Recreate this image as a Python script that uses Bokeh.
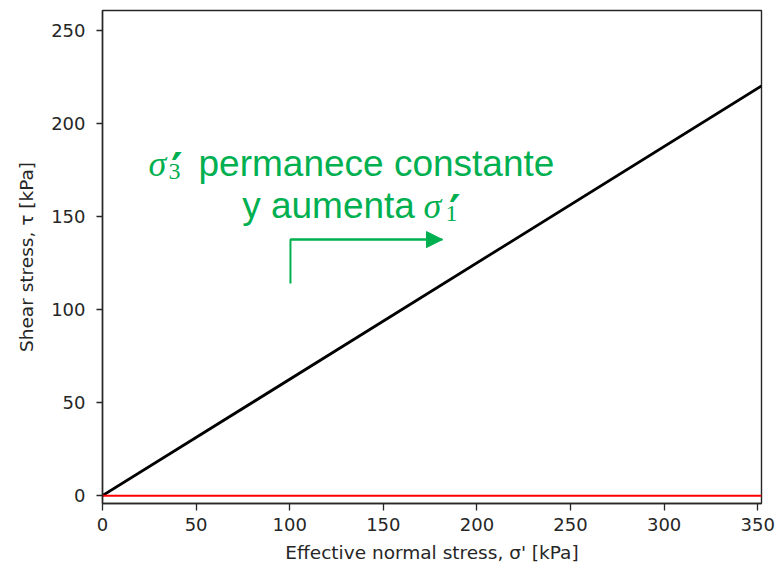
from bokeh.plotting import figure
from bokeh.models import Range1d, FixedTicker, Label, Arrow, NormalHead
from bokeh.embed import file_html
from bokeh.resources import INLINE

# ---- data ----
x_ticks = [0, 50, 100, 150, 200, 250, 300, 350]
y_ticks = [0, 50, 100, 150, 200, 250]
envelope_sigma = [0, 352]
envelope_tau = [0, 220]
stress_sigma = [0, 352]
stress_tau = [0, 0]
arrow_x = [100.4, 100.4, 181.6]
arrow_y = [113.9, 137.5, 137.5]

GREEN = "#00B050"
AXIS_COL = "#262626"

p = figure(width=776, height=565, output_backend="svg", toolbar_location=None,
           x_range=Range1d(0, 352), y_range=Range1d(-4.2, 260.5),
           min_border_left=102, min_border_right=15, min_border_top=10, min_border_bottom=62)

p.background_fill_color = "white"
p.border_fill_color = "white"
p.outline_line_color = AXIS_COL
p.outline_line_width = 1.4
p.xgrid.visible = False
p.ygrid.visible = False

for ax, ticks in ((p.xaxis, x_ticks), (p.yaxis, y_ticks)):
    ax.ticker = FixedTicker(ticks=ticks)
    ax.minor_tick_line_color = None
    ax.major_tick_in = 0
    ax.major_tick_line_color = AXIS_COL
    ax.major_tick_line_width = 1.3
    ax.axis_line_color = AXIS_COL
    ax.axis_line_width = 1.4
    ax.major_label_text_font = "DejaVu Sans"
    ax.major_label_text_font_size = "18px"
    ax.major_label_text_color = AXIS_COL
    ax.axis_label_text_font = "DejaVu Sans"
    ax.axis_label_text_font_size = "18.5px"
    ax.axis_label_text_font_style = "normal"
    ax.axis_label_text_color = AXIS_COL

p.xaxis.major_tick_out = 7
p.yaxis.major_tick_out = 6
p.xaxis.major_label_standoff = 7
p.yaxis.major_label_standoff = 11
p.xaxis.axis_label_standoff = 8
p.yaxis.axis_label_standoff = 11
p.xaxis.axis_label = "Effective normal stress, σ' [kPa]"
p.yaxis.axis_label = "Shear stress, τ [kPa]"

p.line(envelope_sigma, envelope_tau, line_color="black", line_width=2.8)
p.line(stress_sigma, stress_tau, line_color="red", line_width=2)

# ---- annotation ----
def lab(x, y, text, font, size, style="normal"):
    p.add_layout(Label(x=x, y=y, x_units="data", y_units="data", text=text,
                       text_font=font, text_font_size=size, text_font_style=style,
                       text_color=GREEN, text_align="left", text_baseline="alphabetic"))

# line 1
lab(24.6, 178.3, "σ", "Liberation Serif", "36px", "italic")
lab(35.3, 174.0, "3", "Liberation Serif", "24px")
lab(36.6, 175.0, "′", "DejaVu Sans", "44px", "bold")
lab(51.3, 178.3, "permanece constante", "Liberation Sans", "37px")
# line 2
lab(74.6, 155.8, "y aumenta", "Liberation Sans", "37px")
lab(171.5, 155.8, "σ", "Liberation Serif", "36px", "italic")
lab(183.2, 151.5, "1", "Liberation Serif", "24px")
lab(185.1, 152.5, "′", "DejaVu Sans", "44px", "bold")

p.line(arrow_x, arrow_y, line_color=GREEN, line_width=2)
p.add_layout(Arrow(x_start=arrow_x[1], y_start=arrow_y[1], x_end=arrow_x[2], y_end=arrow_y[2],
                   line_color=GREEN, line_width=2,
                   end=NormalHead(size=16, fill_color=GREEN, line_color=GREEN, line_width=1)))

open("out.html", "w").write(file_html(p, INLINE))
